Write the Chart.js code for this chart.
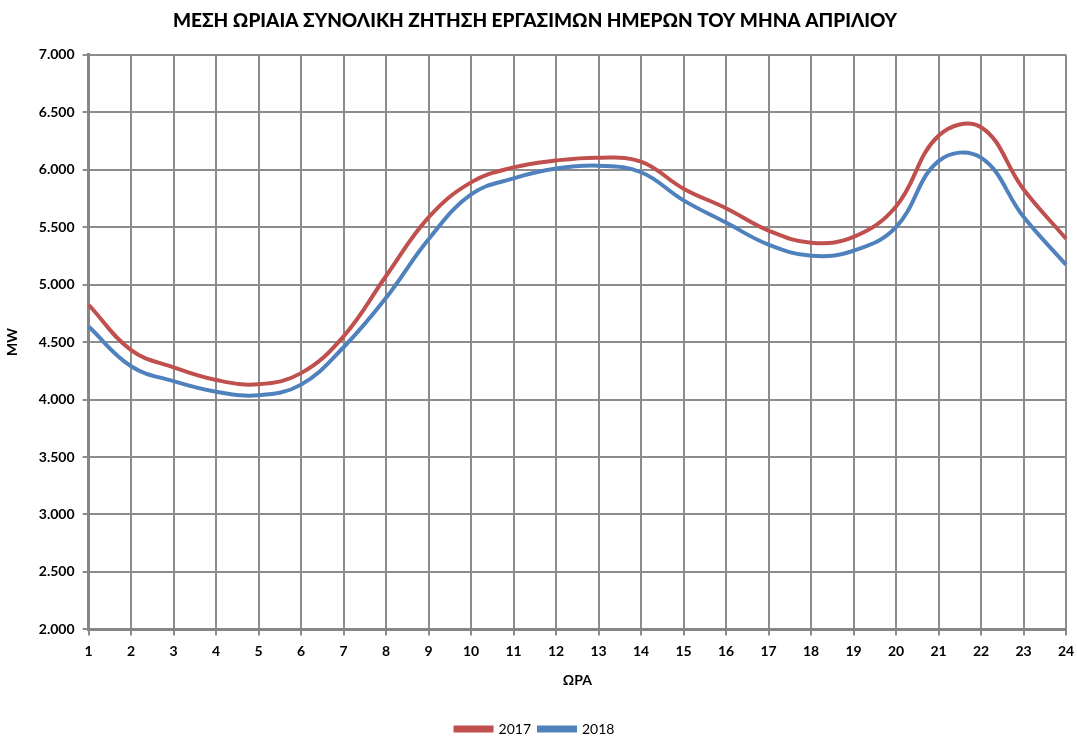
<!DOCTYPE html>
<html>
<head>
<meta charset="utf-8">
<script src="https://cdn.jsdelivr.net/npm/chart.js@4/dist/chart.umd.min.js"></script>
<style>
  html, body { margin: 0; padding: 0; background: #fff; }
  #wrap { width: 1077px; height: 736px; }
</style>
</head>
<body>
<div id="wrap"><canvas id="zitisi" width="1077" height="736"></canvas></div>
<script>
// Ώρες της ημέρας
const ores = ['1','2','3','4','5','6','7','8','9','10','11','12','13','14','15','16','17','18','19','20','21','22','23','24'];

// Μέση ωριαία ζήτηση (MW)
const zitisi2017 = [4825, 4430, 4280, 4170, 4133, 4230, 4550, 5075, 5585, 5890, 6020, 6080, 6105, 6070, 5835, 5665, 5470, 5365, 5415, 5680, 6295, 6370, 5830, 5400];
const zitisi2018 = [4635, 4290, 4160, 4068, 4037, 4130, 4455, 4885, 5395, 5785, 5925, 6010, 6035, 5978, 5733, 5540, 5348, 5252, 5295, 5500, 6075, 6105, 5590, 5173];

const yMin = 2000;
const yMax = 7000;
const yStep = 500;

const gridColor = '#8c8c8c';
const fontFam = 'Lato, "Open Sans", sans-serif';

// Μορφή αριθμού με τελεία για τις χιλιάδες
const formatMW = (v) => {
    const s = Math.round(v).toString();
    return s.length > 3 ? s.slice(0, -3) + '.' + s.slice(-3) : s;
};

new Chart(document.getElementById('zitisi'), {
    type: 'line',
    data: {
        labels: ores,
        datasets: [{
            label: '2017',
            data: zitisi2017,
            borderColor: '#c0504d',
            backgroundColor: '#c0504d',
            borderWidth: 4,
            pointRadius: 0,
            tension: 0.4,
            fill: false
        }, {
            label: '2018',
            data: zitisi2018,
            borderColor: '#4f81bd',
            backgroundColor: '#4f81bd',
            borderWidth: 4,
            pointRadius: 0,
            tension: 0.4,
            fill: false
        }]
    },
    options: {
        responsive: false,
        animation: false,
        layout: { padding: { left: 4, right: 11, top: 6, bottom: -10 } },
        plugins: {
            title: {
                display: true,
                text: 'ΜΕΣΗ ΩΡΙΑΙΑ ΣΥΝΟΛΙΚΗ ΖΗΤΗΣΗ ΕΡΓΑΣΙΜΩΝ ΗΜΕΡΩΝ ΤΟΥ ΜΗΝΑ ΑΠΡΙΛΙΟΥ',
                color: '#000',
                font: { family: fontFam, size: 19, weight: '900' },
                padding: { top: 3, bottom: 23 }
            },
            legend: {
                position: 'bottom',
                labels: {
                    color: '#000',
                    font: { family: fontFam, size: 14 },
                    boxWidth: 36,
                    boxHeight: 3,
                    padding: 8
                }
            },
            tooltip: { enabled: false }
        },
        scales: {
            x: {
                offset: false,
                // το "24" επιτρέπεται να βγει λίγο δεξιά από την περιοχή
                afterFit: (scale) => { scale.paddingRight = 0; },
                grid: {
                    color: gridColor,
                    lineWidth: 2,
                    tickLength: 6
                },
                border: { color: '#868686', width: 3 },
                ticks: {
                    color: '#000',
                    font: { family: fontFam, size: 14, weight: 'bold' },
                    maxRotation: 0,
                    autoSkip: false,
                    padding: 8
                },
                title: {
                    display: true,
                    text: 'ΩΡΑ',
                    color: '#000',
                    font: { family: fontFam, size: 14, weight: 'bold' },
                    padding: { top: 4, bottom: 25 }
                }
            },
            y: {
                min: yMin,
                max: yMax,
                grid: {
                    color: gridColor,
                    lineWidth: 2,
                    tickLength: 6
                },
                border: { color: '#868686', width: 3 },
                ticks: {
                    stepSize: yStep,
                    color: '#000',
                    font: { family: fontFam, size: 14, weight: 'bold' },
                    padding: 8,
                    callback: (v) => formatMW(v)
                },
                title: {
                    display: true,
                    text: 'MW',
                    color: '#000',
                    font: { family: fontFam, size: 14, weight: 'bold' },
                    padding: { top: 0, bottom: 10 }
                }
            }
        }
    }
});
</script>
</body>
</html>
